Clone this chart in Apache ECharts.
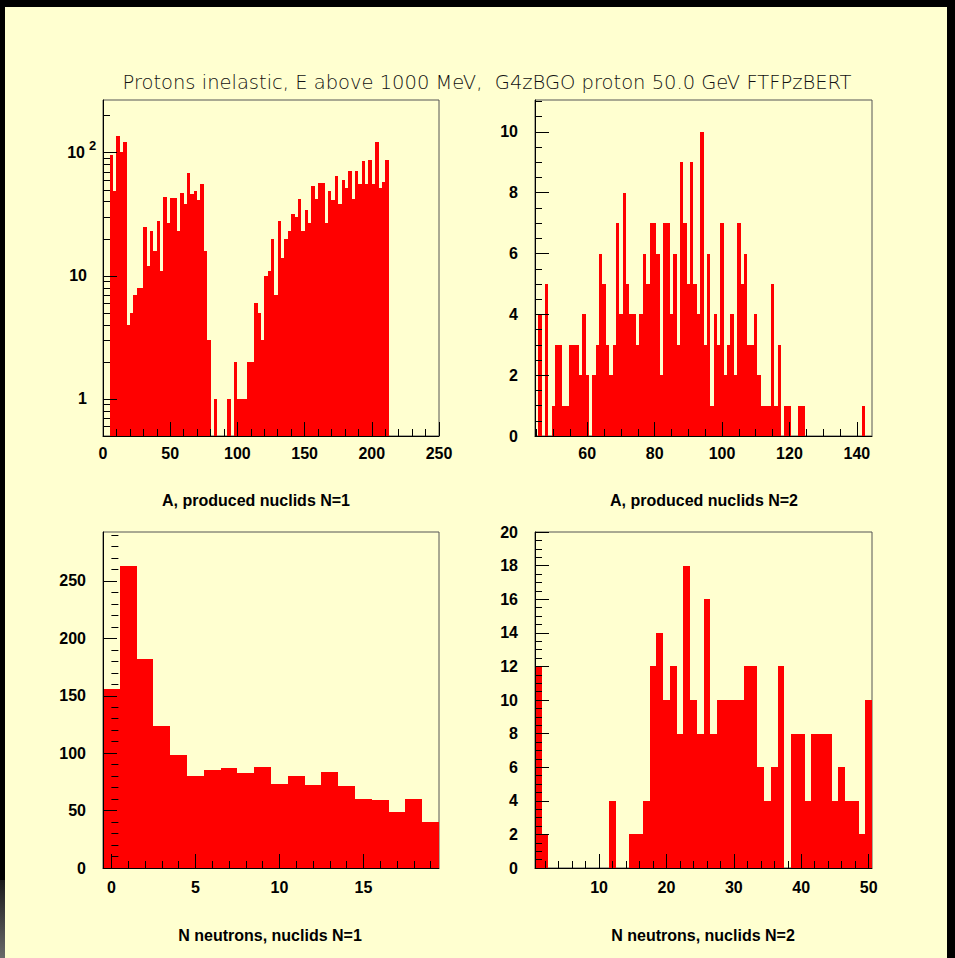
<!DOCTYPE html>
<html>
<head>
<meta charset="utf-8">
<title>Protons inelastic, produced nuclids</title>
<script src="https://cdn.jsdelivr.net/npm/echarts@6/dist/echarts.min.js"></script>
<style>
  html, body { margin: 0; padding: 0; width: 955px; height: 958px; overflow: hidden; background: #000; }
  #canvasPad { position: absolute; left: 5px; top: 7px; width: 942px; height: 951px; background: #ffffd0; }
  #edge { position: absolute; left: 0; top: 880px; width: 5px; height: 78px; background: linear-gradient(#1a1a1a, #6a6a6a); }
  #chart { position: absolute; left: 0; top: 0; width: 955px; height: 958px; }
</style>
</head>
<body>
<div id="canvasPad"></div>
<div id="edge"></div>
<div id="chart"></div>
<script>
// ---- histogram contents -------------------------------------------------

// A of produced nuclids, events with one nuclid: 100 bins of 2.5 from 0 to 250
const aNuclidsN1 = [
  0, 0, 96, 49, 137, 101, 123, 4, 5, 7,
  8, 8, 25, 12, 23, 16, 28, 11, 44, 27,
  43, 43, 23, 47, 38, 69, 46, 49, 41, 56,
  16, 3, 0, 1, 0, 0, 0, 1, 0, 2,
  1, 1, 1, 2, 2, 6, 5, 3, 10, 11,
  20, 7, 28, 14, 20, 23, 32, 30, 42, 23,
  34, 27, 54, 42, 57, 57, 27, 49, 41, 65,
  38, 60, 52, 71, 42, 71, 56, 86, 56, 88,
  56, 122, 52, 58, 87, 0, 0, 0, 0, 0,
  0, 0, 0, 0, 0, 0, 0, 0, 0, 0
];
const aN1Bins = { start: 0, width: 2.5 };

// A of produced nuclids, events with two nuclids: unit bins centred on 45 ... 144
const aNuclidsN2 = [
  0, 4, 0, 5, 0, 1, 3, 3, 1, 1,
  3, 3, 3, 2, 4, 2, 0, 2, 3, 6,
  5, 3, 2, 3, 7, 4, 8, 5, 4, 4,
  3, 4, 6, 5, 7, 7, 6, 2, 7, 7,
  4, 6, 3, 9, 7, 5, 9, 5, 4, 10,
  3, 6, 1, 4, 3, 7, 2, 3, 4, 2,
  7, 5, 6, 3, 3, 4, 2, 1, 1, 1,
  5, 1, 3, 0, 1, 1, 0, 0, 1, 1,
  0, 0, 0, 0, 0, 0, 0, 0, 0, 0,
  0, 0, 0, 0, 0, 0, 0, 1, 0, 0
];
const aN2Bins = { start: 44.5, width: 1 };

// number of neutrons, events with one nuclid: unit bins centred on 0 ... 19
const neutronsN1 = [
  156, 263, 182, 124, 98, 80, 85, 87, 83, 88,
  73, 80, 72, 84, 71, 60, 59, 49, 60, 40
];
const nN1Bins = { start: -0.5, width: 1 };

// number of neutrons, events with two nuclids: unit bins centred on 1 ... 50
const neutronsN2 = [
  12, 2, 0, 0, 0, 0, 0, 0, 0, 0,
  0, 4, 0, 0, 2, 2, 4, 12, 14, 10,
  12, 8, 18, 10, 8, 16, 8, 10, 10, 10,
  10, 12, 12, 6, 4, 6, 12, 0, 8, 8,
  4, 8, 8, 8, 4, 6, 4, 4, 2, 10
];
const nN2Bins = { start: 0.5, width: 1 };

// ---- axis ranges, tick values and tick labels -----------------------------

const aN1Range = [0, 250];
const aN1CountRange = [0.5, 268];
const aN1XLabels = [0, 50, 100, 150, 200, 250];
const aN1XMinor = [10, 20, 30, 40, 60, 70, 80, 90, 110, 120, 130, 140, 160, 170, 180, 190, 210, 220, 230, 240];
const aN1YLabels = [1, 10, 100];
const aN1YMinor = [0.6, 0.7, 0.8, 0.9, 2, 3, 4, 5, 6, 7, 8, 9, 20, 30, 40, 50, 60, 70, 80, 90, 200];

const aN2Range = [44.5, 144.5];
const aN2CountRange = [0, 11.05];
const aN2XLabels = [60, 80, 100, 120, 140];
const aN2XMinor = [45, 50, 55, 65, 70, 75, 85, 90, 95, 105, 110, 115, 125, 130, 135];
const aN2YLabels = [0, 2, 4, 6, 8, 10];
const aN2YMinor = [0.5, 1, 1.5, 2.5, 3, 3.5, 4.5, 5, 5.5, 6.5, 7, 7.5, 8.5, 9, 9.5, 10.5, 11];

const nN1Range = [-0.5, 19.5];
const nN1CountRange = [0, 292.6];
const nN1XLabels = [0, 5, 10, 15];
const nN1XMinor = [1, 2, 3, 4, 6, 7, 8, 9, 11, 12, 13, 14, 16, 17, 18, 19];
const nN1YLabels = [0, 50, 100, 150, 200, 250];
const nN1YMinor = [10, 20, 30, 40, 60, 70, 80, 90, 110, 120, 130, 140, 160, 170, 180, 190, 210, 220, 230, 240, 260, 270, 280, 290];

const nN2Range = [0.5, 50.5];
const nN2CountRange = [0, 20];
const nN2XLabels = [10, 20, 30, 40, 50];
const nN2XMinor = [2, 4, 6, 8, 12, 14, 16, 18, 22, 24, 26, 28, 32, 34, 36, 38, 42, 44, 46, 48];
const nN2YLabels = [0, 2, 4, 6, 8, 10, 12, 14, 16, 18, 20];
const nN2YMinor = [];
for (let v = 0.5; v < 20; v += 0.5) { if (v % 2 !== 0) nN2YMinor.push(v); }

const mainTitle = 'Protons inelastic, E above 1000 MeV,  G4zBGO proton 50.0 GeV FTFPzBERT';
const axisTitles = ['A, produced nuclids N=1', 'A, produced nuclids N=2', 'N neutrons, nuclids N=1', 'N neutrons, nuclids N=2'];

// ---- drawing ------------------------------------------------------------

const FONT = '"Liberation Sans", Arial, Helvetica, sans-serif';
const TITLE_FONT = '"DejaVu Sans", "Liberation Sans", sans-serif';
const FILL = '#ff0000';
const INK = '#000000';

const panels = [
  { counts: aNuclidsN1, bins: aN1Bins, xr: aN1Range, yr: aN1CountRange, log: true,
    xl: aN1XLabels, xm: aN1XMinor, yl: aN1YLabels, ym: aN1YMinor,
    grid: { left: 103, top: 100, width: 336, height: 336 }, title: [256, 500] },
  { counts: aNuclidsN2, bins: aN2Bins, xr: aN2Range, yr: aN2CountRange, log: false,
    xl: aN2XLabels, xm: aN2XMinor, yl: aN2YLabels, ym: aN2YMinor,
    grid: { left: 535, top: 100, width: 337, height: 336 }, title: [704, 500] },
  { counts: neutronsN1, bins: nN1Bins, xr: nN1Range, yr: nN1CountRange, log: false,
    xl: nN1XLabels, xm: nN1XMinor, yl: nN1YLabels, ym: nN1YMinor,
    grid: { left: 103, top: 532, width: 336, height: 336 }, title: [270, 935] },
  { counts: neutronsN2, bins: nN2Bins, xr: nN2Range, yr: nN2CountRange, log: false,
    xl: nN2XLabels, xm: nN2XMinor, yl: nN2YLabels, ym: nN2YMinor,
    grid: { left: 535, top: 532, width: 337, height: 336 }, title: [703, 935] }
];

const labelStyle = { color: INK, fontFamily: FONT, fontWeight: 'bold', fontSize: 16 };

// decade labels of the log axis: "10" with a raised exponent for 100,
// plain numbers keep an empty slot of the exponent's width so they line up
const decadeRich = {
  m: { fontFamily: FONT, fontWeight: 'bold', fontSize: 16, lineHeight: 28, color: INK },
  e: { fontFamily: FONT, fontWeight: 'bold', fontSize: 13, lineHeight: 13, width: 11, align: 'left', verticalAlign: 'top', color: INK, padding: [0, 0, 0, 2] },
  p: { width: 11, fontSize: 13 }
};

const option = {
  animation: false,
  backgroundColor: 'transparent',
  grid: [], xAxis: [], yAxis: [], series: [], graphic: []
};

panels.forEach((p, g) => {
  option.grid.push(Object.assign({
    show: true, backgroundColor: 'transparent', borderColor: '#555', borderWidth: 1
  }, p.grid));

  // main axes: line, major ticks and labels
  option.xAxis.push({
    gridIndex: g, type: 'value', position: 'bottom', min: p.xr[0], max: p.xr[1], z: 5,
    axisLine: { show: true, onZero: false, lineStyle: { color: INK, width: 1 } },
    axisTick: { show: true, inside: true, length: 14, customValues: p.xl, lineStyle: { color: INK } },
    axisLabel: Object.assign({ customValues: p.xl, margin: g < 2 ? 9 : 11 }, labelStyle),
    splitLine: { show: false }
  });
  // companion axis carrying only the minor ticks
  option.xAxis.push({
    gridIndex: g, type: 'value', position: 'bottom', min: p.xr[0], max: p.xr[1], z: 5,
    axisLine: { show: false },
    axisTick: { show: true, inside: true, length: 7, customValues: p.xm, lineStyle: { color: INK } },
    axisLabel: { show: false }, splitLine: { show: false }
  });

  option.yAxis.push({
    gridIndex: g, type: p.log ? 'log' : 'value', logBase: 10, position: 'left',
    min: p.yr[0], max: p.yr[1], z: 5,
    axisLine: { show: true, onZero: false, lineStyle: { color: INK, width: 1 } },
    axisTick: { show: true, inside: true, length: 14, customValues: p.yl, lineStyle: { color: INK } },
    axisLabel: Object.assign({
      customValues: p.yl, margin: p.log ? 5 : 17,
      formatter: p.log ? (v => (v === 100 ? '{m|10}{e|2}' : '{m|' + v + '}{p|}')) : (v => String(v)),
      rich: p.log ? decadeRich : undefined
    }, labelStyle),
    splitLine: { show: false }
  });
  option.yAxis.push({
    gridIndex: g, type: p.log ? 'log' : 'value', logBase: 10, position: 'left',
    min: p.yr[0], max: p.yr[1], z: 5,
    axisLine: { show: false },
    axisTick: { show: true, inside: true, length: 7, customValues: p.ym, lineStyle: { color: INK } },
    axisLabel: { show: false }, splitLine: { show: false }
  });

  // histogram bins as filled rectangles
  const yBase = p.yr[0];
  const data = [];
  p.counts.forEach((c, i) => {
    if (c > 0) data.push([p.bins.start + i * p.bins.width, p.bins.start + (i + 1) * p.bins.width, c]);
  });
  option.series.push({
    type: 'custom', xAxisIndex: 2 * g, yAxisIndex: 2 * g, z: 2,
    encode: { x: [0, 1], y: 2 },
    data: data,
    renderItem: (params, api) => {
      const lo = api.coord([api.value(0), yBase]);
      const hi = api.coord([api.value(1), api.value(2)]);
      const x0 = Math.round(lo[0]), x1 = Math.round(hi[0]);
      const y0 = Math.round(lo[1]), y1 = Math.round(hi[1]);
      return {
        type: 'rect',
        shape: { x: x0, y: y1, width: x1 - x0, height: y0 - y1 },
        style: { fill: FILL }
      };
    }
  });

  option.graphic.push({
    type: 'text', x: p.title[0], y: p.title[1],
    style: { text: axisTitles[g], fill: INK, font: 'bold 16px ' + FONT, textAlign: 'center', textVerticalAlign: 'middle' }
  });
});

option.graphic.push({
  type: 'text', x: 487, y: 82,
  style: { text: mainTitle, fill: '#111', font: '200 19.5px ' + TITLE_FONT, textAlign: 'center', textVerticalAlign: 'middle' }
});

const chart = echarts.init(document.getElementById('chart'), null, { renderer: 'svg', width: 955, height: 958 });
chart.setOption(option);
</script>
</body>
</html>
